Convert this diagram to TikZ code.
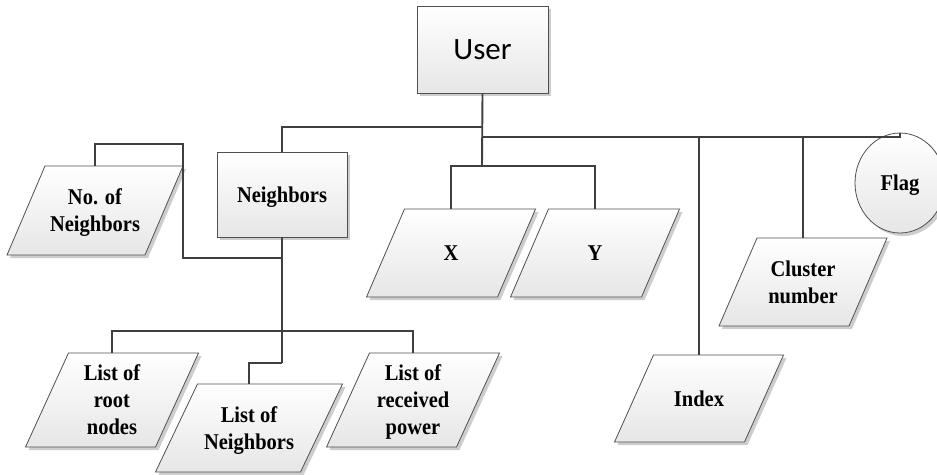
\documentclass[tikz,border=0pt]{standalone}
\usepackage{fontspec}
\usepackage{graphicx}
\setmainfont{Liberation Serif}
\newfontfamily\carlito{Carlito}
\usetikzlibrary{shapes.geometric,shadows}

\definecolor{linkc}{HTML}{3F3F3F}
\definecolor{edgec}{HTML}{505050}
\definecolor{shadowc}{HTML}{CDCDCD}
\definecolor{fillbot}{HTML}{E6E6E6}

% bold labels, slightly stretched upright and set a little low
\newcommand\tallt[1]{\raisebox{-2.5pt}[\height][\depth]{%
  \scalebox{1}[1.1]{\begin{tabular}{@{}c@{}}#1\end{tabular}}}}

\tikzset{
  mainlnk/.style={draw=linkc, line width=1.9pt},
  lnk/.style={draw=linkc, line width=1.4pt},
  txt/.style={inner sep=0pt, font=\bfseries\fontsize{20.5}{24.5}\selectfont},
  softshadow/.style={drop shadow={shadow xshift=3pt, shadow yshift=-3pt,
    fill=shadowc, opacity=1}},
  boxst/.style={rectangle, draw=edgec, line width=0.8pt, top color=white,
    bottom color=fillbot, inner sep=0pt, softshadow},
}

% parallelogram: name, centre x, centre y, side width, height, slant, text
\newcommand\parabox[7]{%
  \fill[shadowc] ({#2-#4/2+#6/2+3},{#3-#5/2+3}) -- ({#2+#4/2+#6/2+3},{#3-#5/2+3})
    -- ({#2+#4/2-#6/2+3},{#3+#5/2+3}) -- ({#2-#4/2-#6/2+3},{#3+#5/2+3}) -- cycle;
  \shadedraw[top color=white, bottom color=fillbot, draw=edgec, line width=0.8pt]
    ({#2-#4/2+#6/2},{#3-#5/2}) -- ({#2+#4/2+#6/2},{#3-#5/2})
    -- ({#2+#4/2-#6/2},{#3+#5/2}) -- ({#2-#4/2-#6/2},{#3+#5/2}) -- cycle;
  \node[txt, minimum width=#4pt, minimum height=#5pt] (#1) at (#2,#3) {\tallt{#7}};
}

\begin{document}
\begin{tikzpicture}[x=1pt, y=-1pt]
\useasboundingbox (0,0) rectangle (937,474);

% rectangles and the circle
\node[boxst, minimum width=131pt, minimum height=87pt,
      font=\carlito\fontsize{31}{31}\selectfont] (user) at (482.5,49.5) {User};
\node[boxst, txt, minimum width=130pt, minimum height=85pt] (nb) at (282,194.5)
      {\tallt{Neighbors}};
\node[ellipse, draw=edgec, line width=0.8pt, top color=white, bottom color=fillbot,
      minimum width=90pt, minimum height=100pt, inner sep=0pt, softshadow,
      txt] (flag) at (900,183) {\tallt{Flag}};

% data fields
\parabox{nonb}{95}{210.5}{138}{89}{38}{No. of\\Neighbors}
\parabox{x}{451}{253}{131}{88}{38}{X}
\parabox{y}{595}{253}{131}{88}{38}{Y}
\parabox{clu}{803}{282}{130}{88}{38}{Cluster\\number}
\parabox{idx}{699}{398.5}{130}{87}{39}{Index}
\parabox{root}{112}{400}{130}{94}{43}{List of\\root\\nodes}
\parabox{recv}{413}{400}{130}{94}{43}{List of\\received\\power}
\parabox{lon}{249}{428}{145}{88}{42}{List of\\Neighbors}

% junction points
\coordinate (lj) at (482,127);
\coordinate (bus) at (482,137);
\coordinate (xyj) at (482,166);
\coordinate (c1) at (183,258);
\coordinate (c2) at (183,144);
\coordinate (kj) at (282,331);
\coordinate (kj2) at (282,363);

% links from User
\draw[mainlnk] (user.south) -- (xyj);
\draw[mainlnk] (lj) -| (nb.north);
\draw[mainlnk] (bus) -- (bus -| flag.north) -- (flag.north);
\draw[lnk] (x.north) |- (xyj) -| (y.north);
\draw[lnk] (bus -| idx.north) -- (idx.north);
\draw[lnk] (bus -| clu.north) -- (clu.north);

% links from Neighbors
\draw[lnk] (nb.south) |- (c1) -- (c2) -| (nonb.north);
\draw[lnk] (nb.south) -- (kj2);
\draw[lnk] (root.north) |- (kj) -| (recv.north);
\draw[lnk] (kj2) -| (lon.north);
\end{tikzpicture}
\end{document}
